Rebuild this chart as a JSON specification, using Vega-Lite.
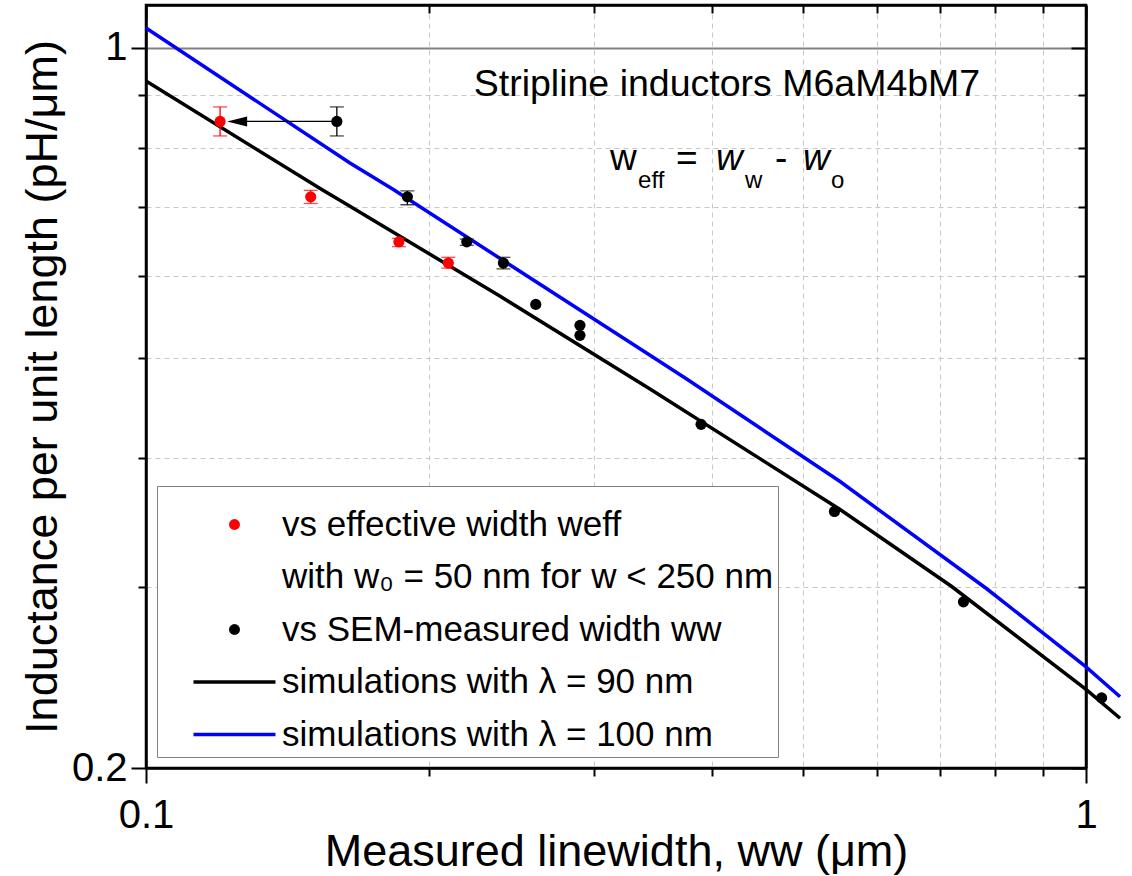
{
  "$schema": "https://vega.github.io/schema/vega-lite/v6.json",
  "width": 940,
  "height": 763,
  "autosize": {"type": "none"},
  "padding": {"left": 146, "top": 5, "right": 46, "bottom": 108},
  "background": "white",
  "config": {
    "font": "Liberation Sans",
    "view": {"stroke": "black", "strokeWidth": 2.5},
    "axis": {
      "labelFont": "Liberation Sans",
      "titleFont": "Liberation Sans",
      "titleFontWeight": "normal",
      "labelColor": "black",
      "titleColor": "black",
      "tickColor": "black",
      "domainColor": "black",
      "domainWidth": 2.5,
      "tickWidth": 2,
      "labelOverlap": false,
      "labelFlush": false
    },
    "text": {"font": "Liberation Sans", "color": "black"}
  },
  "datasets": {
    "sim": [
      {"series": "\u00a0simulations with λ = 90 nm", "w": 0.1, "L": 0.928},
      {"series": "\u00a0simulations with λ = 90 nm", "w": 0.1538, "L": 0.7283},
      {"series": "\u00a0simulations with λ = 90 nm", "w": 0.1648, "L": 0.7016},
      {"series": "\u00a0simulations with λ = 90 nm", "w": 0.2379, "L": 0.574},
      {"series": "\u00a0simulations with λ = 90 nm", "w": 0.3437, "L": 0.4665},
      {"series": "\u00a0simulations with λ = 90 nm", "w": 0.5475, "L": 0.3563},
      {"series": "\u00a0simulations with λ = 90 nm", "w": 0.7197, "L": 0.3},
      {"series": "\u00a0simulations with λ = 90 nm", "w": 1.0, "L": 0.2384},
      {"series": "\u00a0simulations with λ = 90 nm", "w": 1.087, "L": 0.2235},
      {"series": "simulations with λ = 100 nm", "w": 0.1, "L": 1.045},
      {"series": "simulations with λ = 100 nm", "w": 0.1648, "L": 0.7728},
      {"series": "simulations with λ = 100 nm", "w": 0.1833, "L": 0.7283},
      {"series": "simulations with λ = 100 nm", "w": 0.3437, "L": 0.5029},
      {"series": "simulations with λ = 100 nm", "w": 0.376, "L": 0.4769},
      {"series": "simulations with λ = 100 nm", "w": 0.5475, "L": 0.3793},
      {"series": "simulations with λ = 100 nm", "w": 0.7841, "L": 0.2985},
      {"series": "simulations with λ = 100 nm", "w": 1.0, "L": 0.2507},
      {"series": "simulations with λ = 100 nm", "w": 1.087, "L": 0.2345}
    ],
    "pts": [
      {"series": "vs effective width weff", "w": 0.1199, "L": 0.848, "lo": 0.821, "hi": 0.876},
      {"series": "vs effective width weff", "w": 0.1497, "L": 0.7165, "lo": 0.706, "hi": 0.727},
      {"series": "vs effective width weff", "w": 0.1858, "L": 0.648, "lo": 0.641, "hi": 0.653},
      {"series": "vs effective width weff", "w": 0.2097, "L": 0.618, "lo": 0.611, "hi": 0.626},
      {"series": "vs SEM-measured width ww", "w": 0.1596, "L": 0.848, "lo": 0.821, "hi": 0.876},
      {"series": "vs SEM-measured width ww", "w": 0.1897, "L": 0.7165, "lo": 0.704, "hi": 0.726},
      {"series": "vs SEM-measured width ww", "w": 0.2194, "L": 0.648, "lo": 0.643, "hi": 0.652},
      {"series": "vs SEM-measured width ww", "w": 0.24, "L": 0.618, "lo": 0.61, "hi": 0.626},
      {"series": "vs SEM-measured width ww", "w": 0.2598, "L": 0.5635},
      {"series": "vs SEM-measured width ww", "w": 0.2895, "L": 0.5377},
      {"series": "vs SEM-measured width ww", "w": 0.2895, "L": 0.5258},
      {"series": "vs SEM-measured width ww", "w": 0.3895, "L": 0.431},
      {"series": "vs SEM-measured width ww", "w": 0.54, "L": 0.3548},
      {"series": "vs SEM-measured width ww", "w": 0.7407, "L": 0.2899},
      {"series": "vs SEM-measured width ww", "w": 1.039, "L": 0.2339}
    ],
    "arrow": [
      {"from": 0.1596, "to": 0.125, "L": 0.848}
    ]
  },
  "layer": [
    {
      "data": {"name": "sim"},
      "mark": {"type": "line", "strokeWidth": 3.5},
      "encoding": {
        "x": {
          "field": "w", "type": "quantitative",
          "scale": {"type": "log", "domain": [0.1, 1], "nice": false},
          "axis": {
            "orient": "bottom",
            "values": [0.1, 0.2, 0.3, 0.4, 0.5, 0.6, 0.7, 0.8, 0.9, 1],
            "labelExpr": "datum.value == 0.1 ? '0.1' : (datum.value == 1 ? '1' : '')",
            "labelFontSize": 40,
            "labelPadding": 12,
            "tickSize": {"condition": {"test": "datum.value == 0.1 || datum.value == 1", "value": 15}, "value": 8},
            "grid": true,
            "gridDash": [5, 4],
            "gridColor": "#c8c8c8",
            "gridWidth": 1,
            "title": "Measured linewidth, ww (μm)",
            "titleFontSize": 45,
            "titlePadding": -6
          }
        },
        "y": {
          "field": "L", "type": "quantitative",
          "scale": {"type": "log", "domain": [0.2, 1.1], "nice": false},
          "axis": {
            "orient": "left",
            "values": [0.2, 0.3, 0.4, 0.5, 0.6, 0.7, 0.8, 0.9, 1],
            "labelExpr": "datum.value == 0.2 ? '0.2' : (datum.value == 1 ? '1' : '')",
            "labelFontSize": 40,
            "labelPadding": 4,
            "tickSize": {"condition": {"test": "datum.value == 0.2 || datum.value == 1", "value": 15}, "value": 8},
            "grid": true,
            "gridDash": {"condition": {"test": "datum.value == 1", "value": []}, "value": [5, 4]},
            "gridColor": {"condition": {"test": "datum.value == 1", "value": "#808080"}, "value": "#c8c8c8"},
            "gridWidth": {"condition": {"test": "datum.value == 1", "value": 2}, "value": 1},
            "title": "Inductance per unit length (pH/μm)",
            "titleFontSize": 45,
            "titlePadding": 6
          }
        },
        "color": {
          "field": "series", "type": "nominal",
          "scale": {
            "domain": ["vs effective width weff", "with w₀ = 50 nm for w < 250 nm", "vs SEM-measured width ww", "\u00a0simulations with λ = 90 nm", "simulations with λ = 100 nm"],
            "range": ["#ff0000", "#ffffff", "#000000", "#000000", "#0000ff"]
          },
          "legend": {
            "orient": "bottom-left",
            "offset": 11,
            "title": " ",
            "titleFontSize": 8,
            "titlePadding": 9,
            "padding": 4,
            "fillColor": "white",
            "strokeColor": "#808080",
            "labelFont": "Liberation Sans",
            "labelFontSize": 35,
            "labelColor": "black",
            "labelLimit": 0,
            "symbolSize": 576,
            "symbolOffset": 56,
            "labelOffset": 30,
            "rowPadding": 16.5,
            "encode": {
              "symbols": {
                "update": {
                  "shape": {"signal": "datum.index >= 3 ? 'stroke' : 'circle'"},
                  "size": {"signal": "datum.index >= 3 ? 6724 : 120"},
                  "strokeWidth": {"signal": "datum.index >= 3 ? 3.5 : 0"},
                  "fill": {"signal": "datum.index >= 3 ? 'transparent' : scale('color', datum.value)"},
                  "stroke": {"signal": "scale('color', datum.value)"},
                  "opacity": {"signal": "datum.index == 1 ? 0 : 1"},
                  "fillOpacity": {"value": 1},
                  "strokeOpacity": {"value": 1}
                }
              }
            }
          }
        }
      }
    },
    {
      "data": {"name": "pts"},
      "transform": [{"filter": "isValid(datum.lo)"}],
      "mark": {"type": "errorbar", "ticks": true, "size": 14, "thickness": 1.3},
      "encoding": {
        "x": {"field": "w", "type": "quantitative", "axis": null},
        "y": {"field": "lo", "type": "quantitative", "axis": null},
        "y2": {"field": "hi"},
        "color": {"field": "series", "type": "nominal", "legend": null}
      }
    },
    {
      "data": {"name": "arrow"},
      "mark": {"type": "rule", "color": "black", "strokeWidth": 1.3},
      "encoding": {
        "x": {"field": "from", "type": "quantitative", "axis": null},
        "x2": {"field": "to"},
        "y": {"field": "L", "type": "quantitative", "axis": null}
      }
    },
    {
      "data": {"name": "arrow"},
      "mark": {"type": "point", "shape": "M1,-0.5L-1,0L1,0.5Z", "filled": true, "color": "black", "size": 400, "opacity": 1},
      "encoding": {
        "x": {"field": "to", "type": "quantitative", "axis": null},
        "y": {"field": "L", "type": "quantitative", "axis": null}
      }
    },
    {
      "data": {"name": "pts"},
      "mark": {"type": "point", "filled": true, "shape": "circle", "size": 125, "opacity": 1},
      "encoding": {
        "x": {
          "field": "w", "type": "quantitative",
          "axis": {
            "orient": "top",
            "values": [0.1, 0.2, 0.3, 0.4, 0.5, 0.6, 0.7, 0.8, 0.9, 1],
            "labels": false,
            "grid": false,
            "title": null,
            "tickSize": {"condition": {"test": "datum.value == 0.1 || datum.value == 1", "value": -15}, "value": -8}
          }
        },
        "y": {
          "field": "L", "type": "quantitative",
          "axis": {
            "orient": "right",
            "values": [0.2, 0.3, 0.4, 0.5, 0.6, 0.7, 0.8, 0.9, 1],
            "labels": false,
            "grid": false,
            "title": null,
            "tickSize": {"condition": {"test": "datum.value == 0.2 || datum.value == 1", "value": -15}, "value": -8}
          }
        },
        "color": {"field": "series", "type": "nominal", "legend": null}
      }
    },
    {
      "data": {"values": [{}]},
      "mark": {"type": "text", "text": "Stripline inductors M6aM4bM7", "fontSize": 37.5, "align": "center", "baseline": "alphabetic", "color": "black"},
      "encoding": {
        "x": {"datum": 0.415, "type": "quantitative", "axis": null},
        "y": {"datum": 0.898, "type": "quantitative", "axis": null}
      }
    },
    {
      "data": {"values": [{}]},
      "mark": {"type": "text", "text": "w", "fontSize": 37, "align": "left", "baseline": "alphabetic", "color": "black"},
      "encoding": {
        "x": {"datum": 0.3116, "type": "quantitative", "axis": null},
        "y": {"datum": 0.7614, "type": "quantitative", "axis": null}
      }
    },
    {
      "data": {"values": [{}]},
      "mark": {"type": "text", "text": "eff", "fontSize": 24, "align": "left", "baseline": "alphabetic", "color": "black"},
      "encoding": {
        "x": {"datum": 0.3338, "type": "quantitative", "axis": null},
        "y": {"datum": 0.7313, "type": "quantitative", "axis": null}
      }
    },
    {
      "data": {"values": [{}]},
      "mark": {"type": "text", "text": "=", "fontSize": 37, "align": "left", "baseline": "alphabetic", "color": "black"},
      "encoding": {
        "x": {"datum": 0.3663, "type": "quantitative", "axis": null},
        "y": {"datum": 0.7614, "type": "quantitative", "axis": null}
      }
    },
    {
      "data": {"values": [{}]},
      "mark": {"type": "text", "text": "w", "fontSize": 37, "fontStyle": "italic", "align": "left", "baseline": "alphabetic", "color": "black"},
      "encoding": {
        "x": {"datum": 0.4041, "type": "quantitative", "axis": null},
        "y": {"datum": 0.7614, "type": "quantitative", "axis": null}
      }
    },
    {
      "data": {"values": [{}]},
      "mark": {"type": "text", "text": "w", "fontSize": 24, "align": "left", "baseline": "alphabetic", "color": "black"},
      "encoding": {
        "x": {"datum": 0.4338, "type": "quantitative", "axis": null},
        "y": {"datum": 0.7313, "type": "quantitative", "axis": null}
      }
    },
    {
      "data": {"values": [{}]},
      "mark": {"type": "text", "text": "-", "fontSize": 37, "align": "left", "baseline": "alphabetic", "color": "black"},
      "encoding": {
        "x": {"datum": 0.4668, "type": "quantitative", "axis": null},
        "y": {"datum": 0.7614, "type": "quantitative", "axis": null}
      }
    },
    {
      "data": {"values": [{}]},
      "mark": {"type": "text", "text": "w", "fontSize": 37, "fontStyle": "italic", "align": "left", "baseline": "alphabetic", "color": "black"},
      "encoding": {
        "x": {"datum": 0.4999, "type": "quantitative", "axis": null},
        "y": {"datum": 0.7614, "type": "quantitative", "axis": null}
      }
    },
    {
      "data": {"values": [{}]},
      "mark": {"type": "text", "text": "o", "fontSize": 24, "align": "left", "baseline": "alphabetic", "color": "black"},
      "encoding": {
        "x": {"datum": 0.5355, "type": "quantitative", "axis": null},
        "y": {"datum": 0.7313, "type": "quantitative", "axis": null}
      }
    }
  ],
  "resolve": {"axis": {"x": "independent", "y": "independent"}}
}
